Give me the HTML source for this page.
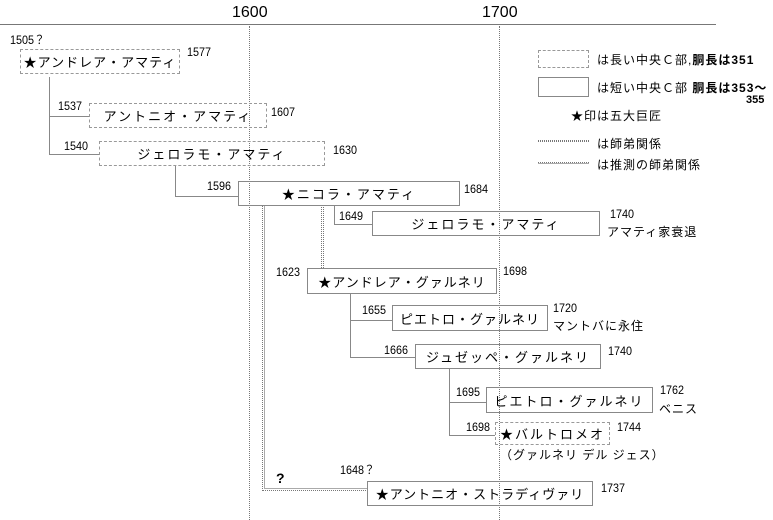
<!DOCTYPE html>
<html><head><meta charset="utf-8"><style>
body{margin:0;width:773px;height:520px;background:#fff;position:relative;overflow:hidden;font-family:"Liberation Sans","Noto Sans CJK JP",sans-serif;color:#000}
.a{position:absolute;white-space:nowrap}
.n{position:absolute;font-size:12px;line-height:12px;white-space:nowrap;transform:scaleX(0.9);transform-origin:left top}
.b{position:absolute;box-sizing:border-box;border:1px solid #888;font-size:13px;letter-spacing:2px;display:flex;align-items:center;justify-content:center;white-space:nowrap;overflow:visible}
.d{border:1px dashed #999}
.h{position:absolute;background:#888;height:1px}
.v{position:absolute;background:#888;width:1px}
.dv{position:absolute;width:0;border-left:1px dotted #777}
</style></head><body>
<div class="a" style="left:232px;top:4px;font-size:16px">1600</div>
<div class="a" style="left:482px;top:4px;font-size:16px">1700</div>
<div class="h" style="left:0;top:24px;width:716px;background:#777"></div>
<div class="dv" style="left:249px;top:26px;height:494px"></div>
<div class="dv" style="left:499px;top:26px;height:494px"></div>

<div class="v" style="left:49px;top:77px;height:78px"></div>
<div class="h" style="left:49px;top:116px;width:40px"></div>
<div class="h" style="left:49px;top:154px;width:50px"></div>
<div class="v" style="left:175px;top:166px;height:30px"></div>
<div class="h" style="left:175px;top:196px;width:63px"></div>
<div class="v" style="left:334px;top:205px;height:20px"></div>
<div class="h" style="left:334px;top:224px;width:38px"></div>
<div class="v" style="left:350px;top:294px;height:64px"></div>
<div class="h" style="left:350px;top:320px;width:42px"></div>
<div class="h" style="left:350px;top:357px;width:65px"></div>
<div class="v" style="left:449px;top:369px;height:66px"></div>
<div class="h" style="left:449px;top:402px;width:37px"></div>
<div class="h" style="left:449px;top:435px;width:46px"></div>
<div class="dv" style="left:321px;top:205px;height:63px"></div>
<div class="dv" style="left:323px;top:205px;height:63px"></div>
<div style="position:absolute;left:262px;top:205px;width:105px;height:285px;border-left:1px dotted #777;border-bottom:1px dotted #777"></div>
<div style="position:absolute;left:264px;top:205px;width:103px;height:283px;border-left:1px solid #aaa;border-bottom:1px solid #aaa"></div>

<div class="b d" style="left:20px;top:49px;width:160px;height:25px;letter-spacing:1px">★アンドレア・アマティ</div>
<div class="b d" style="left:89px;top:103px;width:178px;height:25px">アントニオ・アマティ</div>
<div class="b d" style="left:99px;top:141px;width:226px;height:25px">ジェロラモ・アマティ</div>
<div class="b" style="left:238px;top:181px;width:222px;height:25px">★ニコラ・アマティ</div>
<div class="b" style="left:372px;top:211px;width:228px;height:25px">ジェロラモ・アマティ</div>
<div class="b" style="left:307px;top:268px;width:190px;height:26px;letter-spacing:1px">★アンドレア・グァルネリ</div>
<div class="b" style="left:392px;top:305px;width:156px;height:26px;letter-spacing:1px">ピエトロ・グァルネリ</div>
<div class="b" style="left:415px;top:344px;width:186px;height:25px">ジュゼッペ・グァルネリ</div>
<div class="b" style="left:486px;top:387px;width:167px;height:26px">ピエトロ・グァルネリ</div>
<div class="b d" style="left:495px;top:422px;width:115px;height:23px">★バルトロメオ</div>
<div class="b" style="left:367px;top:481px;width:226px;height:25px;letter-spacing:1px">★アントニオ・ストラディヴァリ</div>

<div class="n" style="left:10px;top:34px">1505？</div>
<div class="n" style="left:187px;top:46px">1577</div>
<div class="n" style="left:58px;top:100px">1537</div>
<div class="n" style="left:271px;top:106px">1607</div>
<div class="n" style="left:64px;top:140px">1540</div>
<div class="n" style="left:333px;top:144px">1630</div>
<div class="n" style="left:207px;top:180px">1596</div>
<div class="n" style="left:464px;top:183px">1684</div>
<div class="n" style="left:339px;top:210px">1649</div>
<div class="n" style="left:610px;top:208px">1740</div>
<div class="a" style="left:607px;top:223px;font-size:12px;letter-spacing:1px">アマティ家衰退</div>
<div class="n" style="left:276px;top:266px">1623</div>
<div class="n" style="left:503px;top:265px">1698</div>
<div class="n" style="left:362px;top:304px">1655</div>
<div class="n" style="left:553px;top:302px">1720</div>
<div class="a" style="left:553px;top:317px;font-size:12px;letter-spacing:1px">マントバに永住</div>
<div class="n" style="left:384px;top:344px">1666</div>
<div class="n" style="left:608px;top:345px">1740</div>
<div class="n" style="left:456px;top:386px">1695</div>
<div class="n" style="left:660px;top:384px">1762</div>
<div class="a" style="left:659px;top:400px;font-size:12px;letter-spacing:1px">ベニス</div>
<div class="n" style="left:466px;top:421px">1698</div>
<div class="n" style="left:617px;top:421px">1744</div>
<div class="a" style="left:500px;top:446px;font-size:12px;letter-spacing:1px">（グァルネリ デル ジェス）</div>
<div class="n" style="left:340px;top:464px">1648？</div>
<div class="a" style="left:276px;top:470px;font-size:14px;font-weight:bold">?</div>
<div class="n" style="left:601px;top:482px">1737</div>

<div style="position:absolute;left:538px;top:50px;width:51px;height:18px;box-sizing:border-box;border:1px dashed #999"></div>
<div class="a" style="left:597px;top:51px;font-size:12px;letter-spacing:1px">は長い中央Ｃ部,<b>胴長は351</b></div>
<div style="position:absolute;left:538px;top:77px;width:51px;height:20px;box-sizing:border-box;border:1px solid #888"></div>
<div class="a" style="left:597px;top:79px;font-size:12px;letter-spacing:1px">は短い中央Ｃ部 <b>胴長は353～</b></div>
<div class="a" style="left:746px;top:94px;font-size:11px;font-weight:bold">355</div>
<div class="a" style="left:571px;top:107px;font-size:12px;letter-spacing:1px">★印は五大巨匠</div>
<div style="position:absolute;left:538px;top:140px;width:51px;height:2px;border-top:1px dotted #777;border-bottom:1px dotted #777;box-sizing:border-box"></div>
<div class="a" style="left:597px;top:135px;font-size:12px;letter-spacing:1px">は師弟関係</div>
<div style="position:absolute;left:538px;top:162px;width:51px;height:2px;border-top:1px dotted #777;border-bottom:1px solid #aaa;box-sizing:border-box"></div>
<div class="a" style="left:597px;top:156px;font-size:12px;letter-spacing:1px">は推測の師弟関係</div>
</body></html>
